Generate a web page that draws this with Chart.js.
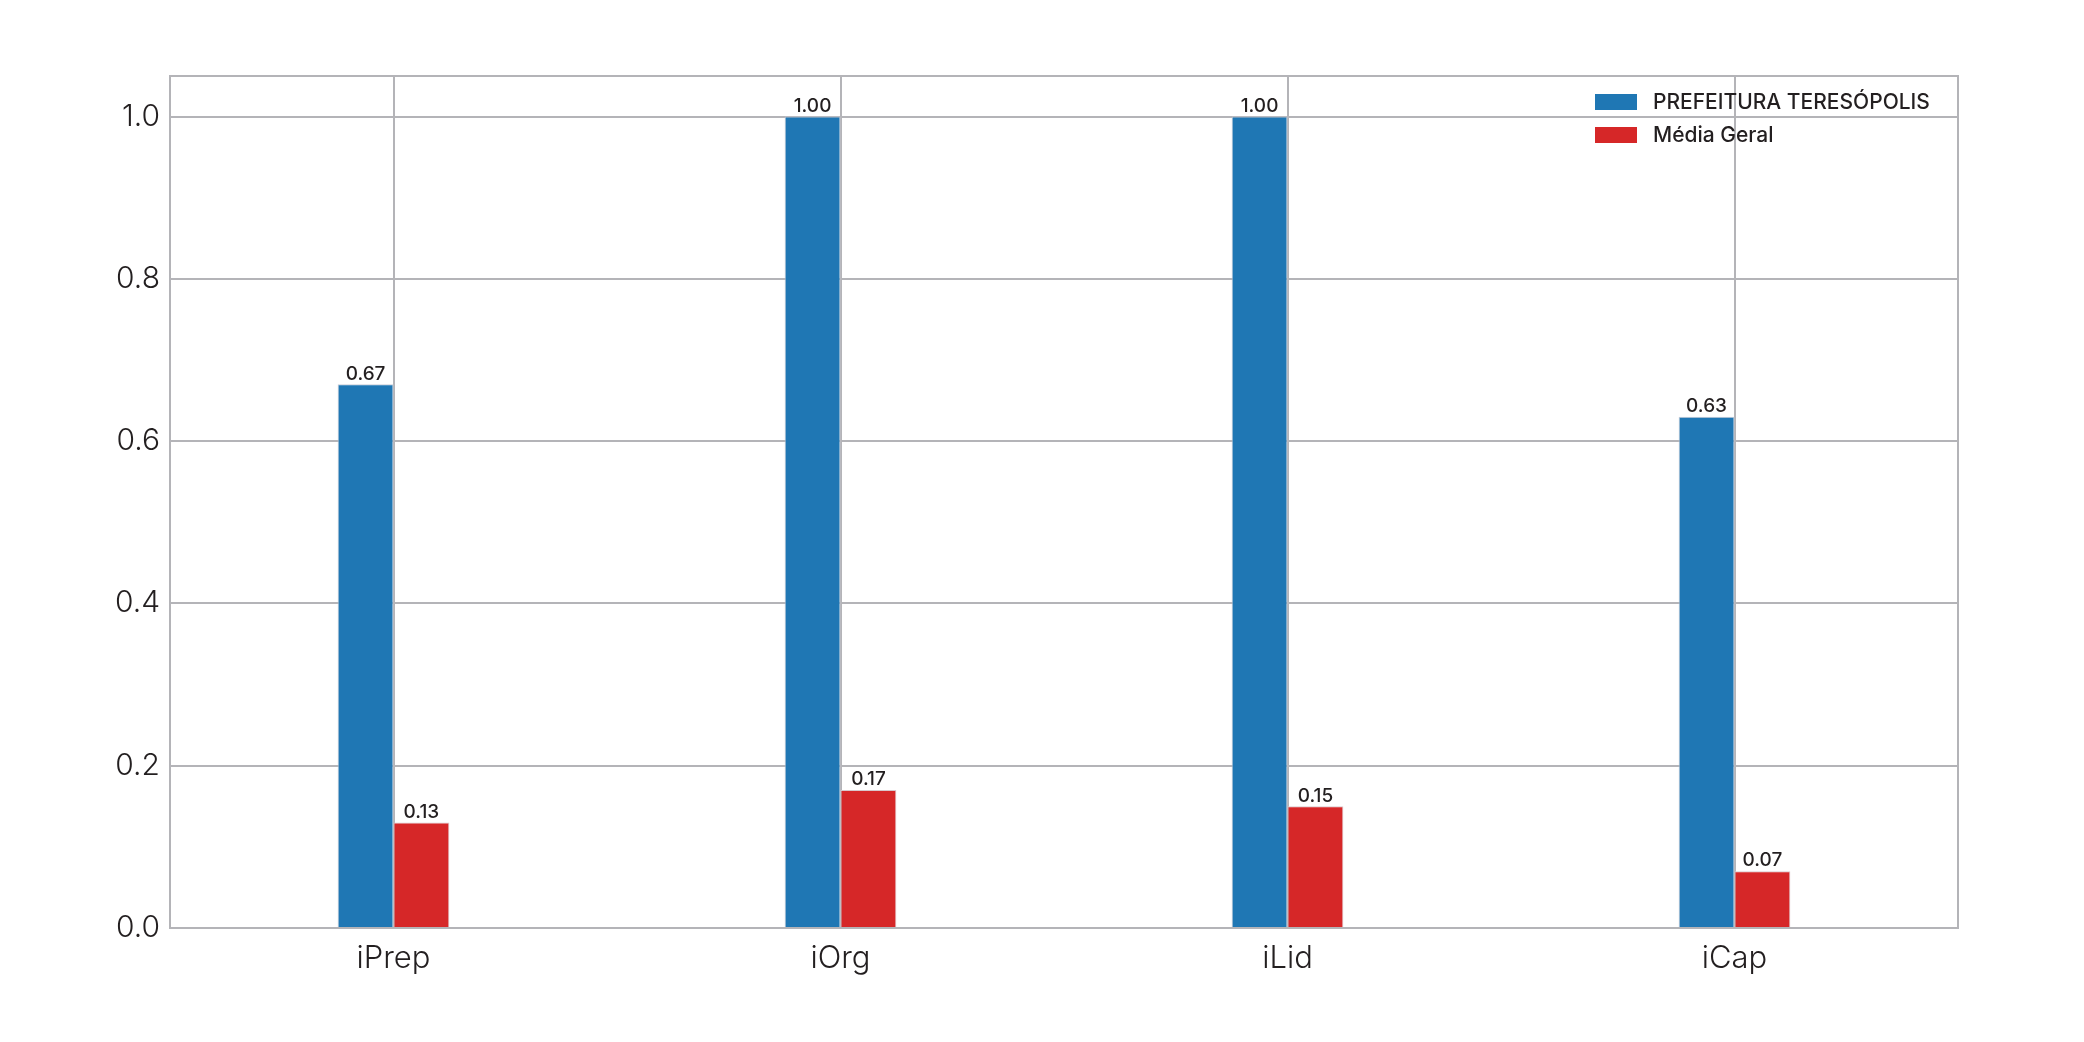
<!DOCTYPE html>
<html>
<head>
<meta charset="utf-8">
<script src="https://cdn.jsdelivr.net/npm/chart.js@4/dist/chart.umd.min.js"></script>
<style>
  html, body { margin: 0; padding: 0; background: #fff; }
  canvas { display: block; }
</style>
</head>
<body>
<canvas id="chart" width="2084" height="1042"></canvas>
<script>
const categories = ["iPrep", "iOrg", "iLid", "iCap"];
const seriesNames = ["PREFEITURA TERESÓPOLIS", "Média Geral"];
const prefeitura = [0.67, 1.00, 1.00, 0.63];
const mediaGeral = [0.13, 0.17, 0.15, 0.07];
const yTicks = [0.0, 0.2, 0.4, 0.6, 0.8, 1.0];

const gridColor = "#b4b4b8";
const textColor = "#231f20";
const font = "Inter, 'Noto Sans', sans-serif";

// box around the whole plot area (top and right sides too)
const frame = {
    id: "frame",
    afterDraw(chart) {
        const { ctx, chartArea: a } = chart;
        ctx.save();
        ctx.strokeStyle = gridColor;
        ctx.lineWidth = 2;
        ctx.strokeRect(a.left, a.top, a.right - a.left, a.bottom - a.top);
        ctx.restore();
    }
};

// numbers over each bar
const barValues = {
    id: "barValues",
    afterDatasetsDraw(chart) {
        const ctx = chart.ctx;
        ctx.save();
        ctx.fillStyle = textColor;
        ctx.font = "500 19px " + font;
        ctx.textAlign = "center";
        ctx.textBaseline = "bottom";
        chart.data.datasets.forEach((ds, i) => {
            chart.getDatasetMeta(i).data.forEach((bar, j) => {
                ctx.fillText(ds.data[j].toFixed(2), bar.x, bar.y - 1);
            });
        });
        ctx.restore();
    }
};

// legend in the top right corner, inside the plot
const insideLegend = {
    id: "insideLegend",
    afterDraw(chart) {
        const { ctx, chartArea: a } = chart;
        ctx.save();
        ctx.font = "500 21px " + font;
        ctx.textBaseline = "middle";
        chart.data.datasets.forEach((ds, i) => {
            const y = a.top + 26 + i * 33;
            const x = a.right - 363;
            ctx.fillStyle = ds.backgroundColor;
            ctx.fillRect(x, y - 8, 42, 16);
            ctx.fillStyle = textColor;
            ctx.fillText(ds.label, x + 58, y + 1);
        });
        ctx.restore();
    }
};

new Chart(document.getElementById("chart"), {
    type: "bar",
    data: {
        labels: categories,
        datasets: [
            { label: seriesNames[0], data: prefeitura, backgroundColor: "#1f77b4",
              borderColor: "#c9ccd6", borderWidth: 1 },
            { label: seriesNames[1], data: mediaGeral, backgroundColor: "#d62728",
              borderColor: "#d8c8cc", borderWidth: 1 }
        ]
    },
    options: {
        responsive: false,
        devicePixelRatio: 1,
        animation: false,
        categoryPercentage: 0.25,
        barPercentage: 1.0,
        layout: { padding: { top: 76, right: 126, bottom: 0, left: 0 } },
        plugins: {
            legend: { display: false },
            tooltip: { enabled: false }
        },
        scales: {
            x: {
                grid: { offset: false, color: gridColor, lineWidth: 2, drawTicks: false },
                border: { color: gridColor, width: 2 },
                ticks: { color: textColor, padding: 12, font: { family: font, size: 31, weight: "300" } },
                afterFit(scale) { scale.height = 114; }
            },
            y: {
                min: 0,
                max: 1.05,
                grid: { color: gridColor, lineWidth: 2, drawTicks: false },
                border: { color: gridColor, width: 2 },
                afterBuildTicks(scale) { scale.ticks = yTicks.map(v => ({ value: v })); },
                ticks: {
                    color: textColor,
                    padding: 10,
                    font: { family: font, size: 30, weight: "300" },
                    callback: v => Number(v).toFixed(1)
                },
                afterFit(scale) { scale.width = 170; }
            }
        }
    },
    plugins: [frame, barValues, insideLegend]
});
</script>
</body>
</html>
